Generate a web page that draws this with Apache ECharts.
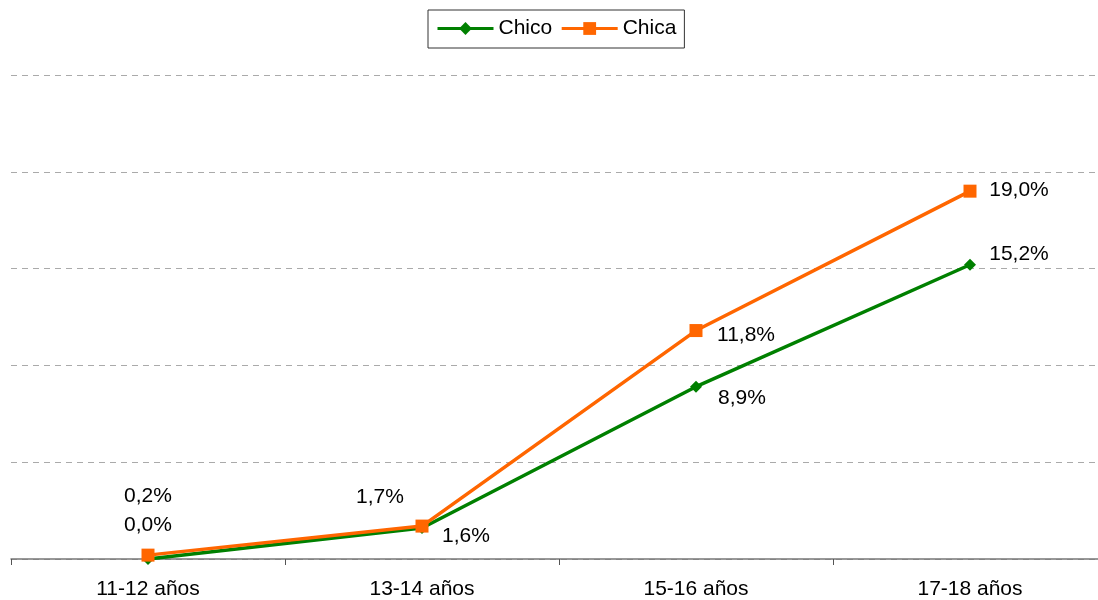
<!DOCTYPE html>
<html>
<head>
<meta charset="utf-8">
<script src="https://cdn.jsdelivr.net/npm/echarts@6/dist/echarts.min.js"></script>
<style>
  html, body { margin: 0; padding: 0; background: #fff; overflow: hidden; }
  #main { width: 1110px; height: 600px; }
</style>
</head>
<body>
<div id="main"></div>
<script>
var categories = ['11-12 años', '13-14 años', '15-16 años', '17-18 años'];
var chico = [0.0, 1.6, 8.9, 15.2];
var chica = [0.2, 1.7, 11.8, 19.0];

// desplazamiento de cada etiqueta respecto al punto (como en el original)
var chicoOffsets = [[0, -34], [44, 8], [46, 12], [49, -11]];
var chicaOffsets = [[0, -59], [-42, -29], [50, 5], [49, -1]];

function fmt(v) {
    return v.toFixed(1).replace('.', ',') + '%';
}

function buildData(values, offsets) {
    return values.map(function (v, i) {
        return {
            value: v,
            label: { offset: offsets[i] }
        };
    });
}

var myChart = echarts.init(document.getElementById('main'));
var option = {
    animation: false,
    textStyle: { fontFamily: 'Liberation Sans, Arial, sans-serif' },
    legend: {
        left: 428,
        top: 10,
        padding: [8, 8, 9, 8],
        borderColor: '#333',
        borderWidth: 1,
        itemWidth: 56,
        itemHeight: 16,
        itemGap: 8,
        lineStyle: { width: 3 },
        textStyle: { fontSize: 21, color: '#000' },
        data: ['Chico', 'Chica']
    },
    grid: {
        left: 11,
        right: 3,
        top: 75,
        bottom: 40
    },
    xAxis: {
        type: 'category',
        data: categories,
        boundaryGap: true,
        axisLine: { lineStyle: { color: '#777', width: 1.5 } },
        axisTick: { show: true, length: 6, lineStyle: { color: '#555' } },
        axisLabel: { fontSize: 21, color: '#000', margin: 20 }
    },
    yAxis: {
        type: 'value',
        min: 0,
        max: 25,
        interval: 5,
        axisLabel: { show: false },
        axisLine: { show: false },
        axisTick: { show: false },
        splitLine: { lineStyle: { color: '#aaa', type: [6, 5], width: 1 } }
    },
    series: [
        {
            name: 'Chico',
            type: 'line',
            data: buildData(chico, chicoOffsets),
            color: '#008000',
            symbol: 'diamond',
            symbolSize: 12,
            lineStyle: { width: 3.5 },
            label: {
                show: true,
                position: 'inside',
                fontSize: 21,
                color: '#000',
                formatter: function (p) { return fmt(p.value); }
            }
        },
        {
            name: 'Chica',
            type: 'line',
            data: buildData(chica, chicaOffsets),
            color: '#ff6600',
            symbol: 'rect',
            symbolSize: 13,
            lineStyle: { width: 3.5 },
            label: {
                show: true,
                position: 'inside',
                fontSize: 21,
                color: '#000',
                formatter: function (p) { return fmt(p.value); }
            }
        }
    ]
};
myChart.setOption(option);
</script>
</body>
</html>
